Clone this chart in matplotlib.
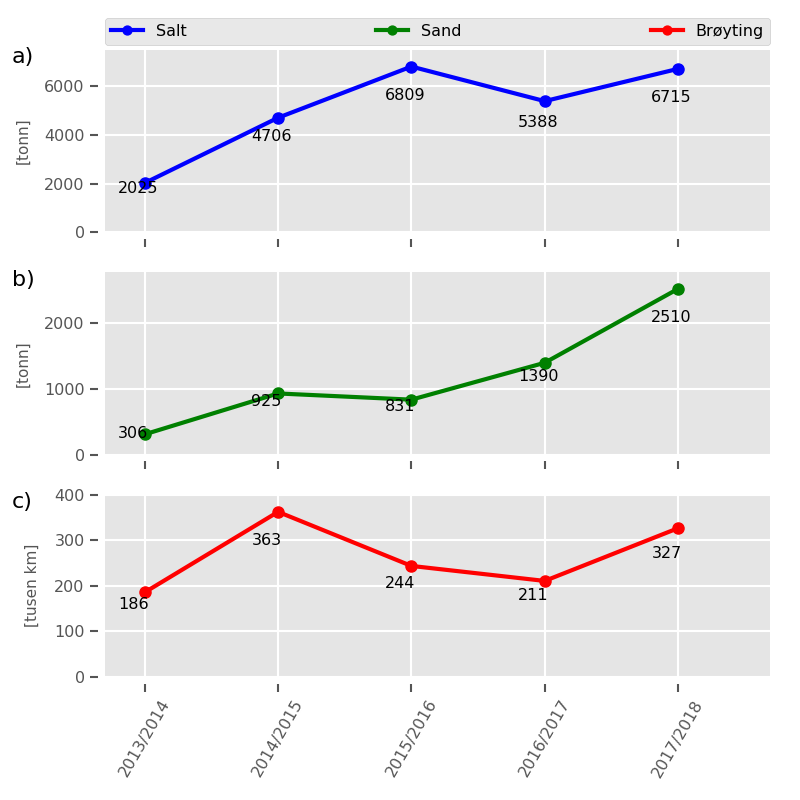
import numpy as np
import matplotlib
matplotlib.use("Agg")
import matplotlib.pyplot as plt

plt.style.use("ggplot")
plt.rcParams["font.size"] = 11.5

# Data
seasons = ["2013/2014", "2014/2015", "2015/2016", "2016/2017", "2017/2018"]
salt = [2025, 4706, 6809, 5388, 6715]
sand = [306, 925, 831, 1390, 2510]
broyting = [186, 363, 244, 211, 327]

series = [
    (salt, "Salt", "b", "[tonn]", "a)", 2000),
    (sand, "Sand", "g", "[tonn]", "b)", 1000),
    (broyting, "Brøyting", "r", "[tusen km]", "c)", 100),
]

x = np.arange(len(seasons))

fig, axes = plt.subplots(3, 1, figsize=(8, 8), dpi=100, sharex=True)
fig.subplots_adjust(left=0.131, right=0.9625, bottom=0.154, top=0.9375, hspace=0.22)

handles = []
for ax, (vals, name, col, unit, tag, step) in zip(axes, series):
    h, = ax.plot(x, vals, "-o", color=col, lw=3, ms=8, label=name)
    handles.append(h)
    for xi, v in zip(x, vals):
        ax.text(xi - 0.2, 0.8 * v, str(v), ha="left", va="baseline",
                fontsize=11.5, color="black")
    # 10% headroom, snapped up when it lands just short of a tick
    top = max(vals) * 1.1
    if np.ceil(top / step) * step - top < 0.02 * step:
        top = np.ceil(top / step) * step + 0.01 * step
    ax.set_ylim(0, top)
    ax.set_xlim(-0.3, 4.69)
    ax.set_ylabel(unit, fontsize=11, color="#555555", labelpad=10)
    ax.text(-0.14, 0.96, tag, transform=ax.transAxes, fontsize=16,
            ha="left", va="center")
    ax.grid(True, color="white", lw=1.5)
    for s in ["left", "bottom"]:
        ax.spines[s].set_position(("outward", 5))
        ax.spines[s].set_visible(False)
    for s in ["top", "right"]:
        ax.spines[s].set_visible(False)
    ax.tick_params(axis="both", direction="out", length=6, width=1.5,
                   color="#555555", labelcolor="#555555", labelsize=11.5)
    ax.yaxis.set_major_locator(plt.MultipleLocator(step))

axes[2].set_xticks(x)
axes[2].set_xticklabels(seasons, rotation=60)

axes[0].legend(handles=handles, loc="lower left", bbox_to_anchor=(0, 1.025, 1, 0.2),
               mode="expand", ncol=3, fontsize=11.5, borderaxespad=0, markerscale=0.8,
               facecolor="#E8E8E8", edgecolor="#CCCCCC", framealpha=1)

fig.savefig("out.png", dpi=100)
